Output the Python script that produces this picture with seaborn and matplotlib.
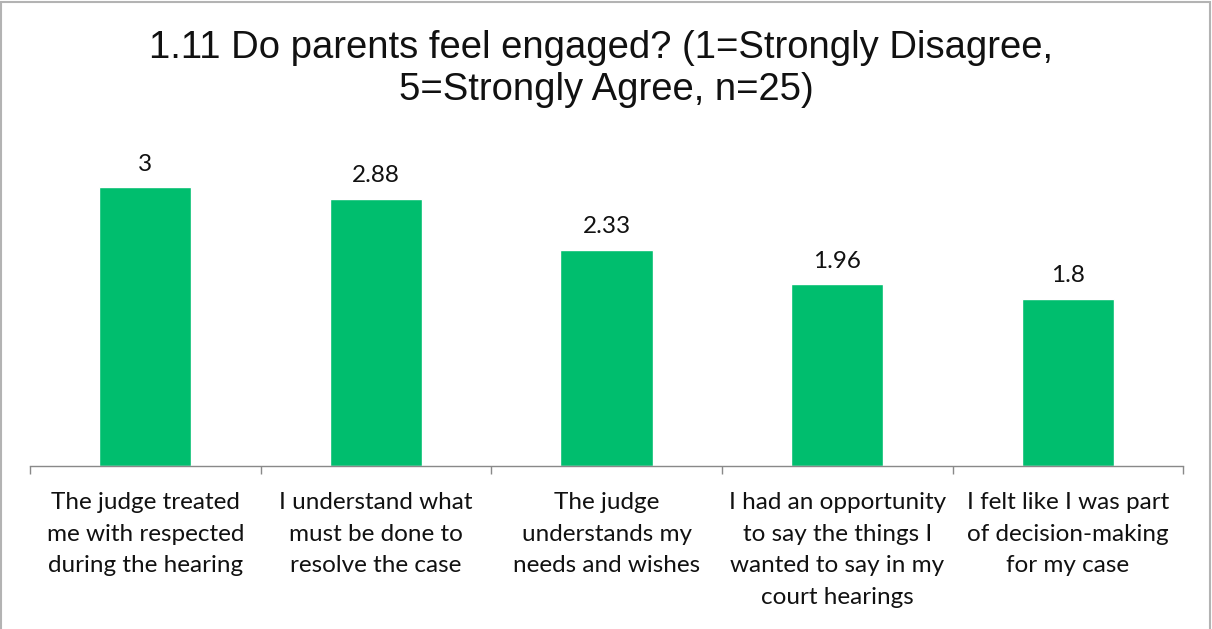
import matplotlib
matplotlib.use("Agg")
import matplotlib.pyplot as plt
from matplotlib.patches import Rectangle
from matplotlib.ticker import FixedLocator
import seaborn as sns
import pandas as pd

title = "1.11 Do parents feel engaged? (1=Strongly Disagree, \n5=Strongly Agree, n=25)"
categories = [
    "The judge treated\nme with respected\nduring the hearing",
    "I understand what\nmust be done to\nresolve the case",
    "The judge\nunderstands my\nneeds and wishes",
    "I had an opportunity\nto say the things I\nwanted to say in my\ncourt hearings",
    "I felt like I was part\nof decision-making\nfor my case",
]
scores = [3, 2.88, 2.33, 1.96, 1.8]
score_labels = ["3", "2.88", "2.33", "1.96", "1.8"]

df = pd.DataFrame({"item": categories, "score": scores})

sns.set_style("white")
plt.rcParams["font.family"] = ["Lato", "DejaVu Sans"]

fig = plt.figure(figsize=(12.12, 6.29), dpi=100)
ax = fig.add_axes([0.0248, 0.2591, 0.9514, 0.5167])

sns.barplot(data=df, x="item", y="score", color="#00BE6E", width=0.4,
            saturation=1, ax=ax)

ax.set_xlim(-0.5, len(categories) - 0.5)
ax.set_ylim(0, 3.5)
ax.set_yticks([])
ax.set_xlabel("")
ax.set_ylabel("")
for side in ("top", "left", "right"):
    ax.spines[side].set_visible(False)
ax.spines["bottom"].set_color("#898989")
ax.spines["bottom"].set_linewidth(1.0)

ax.set_xticks(range(len(categories)))
ax.set_xticklabels(categories, fontsize=17.5, color="#111111", linespacing=1.62)
ax.tick_params(axis="x", which="major", length=0, pad=19)
ax.xaxis.set_minor_locator(FixedLocator([i - 0.5 for i in range(len(categories) + 1)]))
ax.tick_params(axis="x", which="minor", length=6, width=1.0, color="#898989",
               bottom=True)
for lbl in ax.get_xticklabels():
    lbl.set_verticalalignment("top")

for container in ax.containers:
    ax.bar_label(container, labels=score_labels, padding=9, fontsize=17.5,
                 color="#111111")

fig.text(0.5, 0.952, title, ha="center", va="top", fontsize=27.5,
         family="Liberation Sans", color="#111111", linespacing=1.2)

fig.patches.append(Rectangle((0.001, -0.02), 0.997, 1.0175, transform=fig.transFigure,
                             fill=False, edgecolor="#b3b3b3", linewidth=1.5))

fig.savefig("out.png", dpi=100)
